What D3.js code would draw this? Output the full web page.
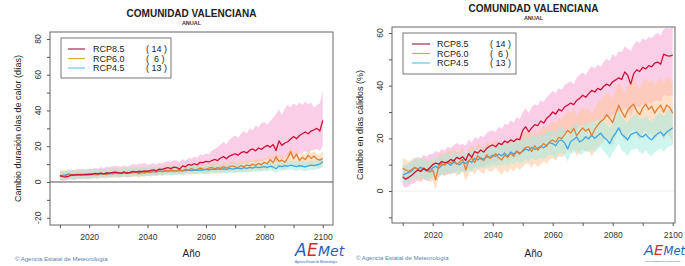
<!DOCTYPE html>
<html>
<head>
<meta charset="utf-8">
<script src="https://cdn.jsdelivr.net/npm/d3@7"></script>
<style>
  body { margin: 0; background: #fff; }
  svg { display: block; font-family: "Liberation Sans", Arial, sans-serif; }
</style>
</head>
<body>
<div id="chart"></div>
<script>
// years 2010..2100
const years = d3.range(2010, 2101);

const scenarios = ["RCP8.5", "RCP6.0", "RCP4.5"];
const models = [14, 6, 13];

// left panel: cambio duración olas de calor (días)
const L85 = [3.5,3.0,2.8,3.2,4.0,3.8,4.2,3.9,4.3,4.0, 4.4,4.2,4.8,4.5,5.0,4.6,5.1,4.9,5.3,5.5,
  5.2,5.0,5.6,4.8,5.4,5.9,5.5,6.0,5.8,6.2, 6.0,6.5,6.8,6.3,7.2,7.0,7.6,8.0,7.5,8.3,
  8.0,7.2,9.0,8.5,9.8,9.4,10.2,9.6,11.0,10.8, 11.5,11.2,12.0,12.6,12.0,13.4,14.2,13.0,14.5,15.2,
  15.8,15.0,16.4,17.0,16.2,17.8,18.5,17.4,19.0,18.2, 19.6,20.5,19.5,21.0,17.6,23.0,20.5,21.8,22.5,24.0,
  25.5,24.2,26.0,27.0,28.0,27.0,28.5,29.2,30.0,28.5, 34.5];
const L60 = [3.2,3.8,3.5,4.2,3.6,4.0,3.7,4.4,3.9,4.1, 3.8,4.6,4.2,4.0,4.8,4.4,4.1,5.0,4.6,4.9,
  4.5,5.2,4.8,5.5,4.9,5.3,5.7,4.6,5.4,5.0, 5.8,5.2,6.0,5.5,6.3,5.7,6.6,6.0,6.8,6.2,
  6.4,6.9,6.0,7.2,6.5,7.5,6.8,7.0,7.8,7.2, 7.0,7.8,8.2,7.4,8.0,7.6,8.6,7.8,8.4,9.0,
  8.5,8.0,9.2,8.6,9.5,9.0,10.0,9.2,10.4,9.6, 11.0,10.2,12.5,10.8,14.0,11.5,12.2,11.0,13.5,17.0,
  13.0,15.5,12.0,13.8,12.5,15.0,13.2,14.5,12.8,12.2, 13.2];
const L45 = [3.6,3.4,4.0,4.5,3.9,4.2,4.0,4.3,4.1,4.5, 4.2,4.6,4.3,4.8,4.4,4.7,4.9,4.5,5.0,4.8,
  5.1,4.7,5.3,5.0,5.4,5.2,5.6,5.3,5.7,5.5, 5.8,5.6,6.0,5.7,6.1,5.9,6.2,6.0,6.3,6.1,
  6.4,6.2,6.5,6.3,6.6,6.4,6.7,6.5,6.8,6.6, 7.0,6.7,7.2,6.9,7.3,7.0,7.4,7.1,7.6,7.2,
  7.5,7.8,7.3,8.0,7.6,8.2,7.8,8.4,8.0,8.3, 8.6,8.2,8.8,8.4,7.4,9.0,8.6,9.2,8.8,9.4,
  9.0,8.6,9.2,8.8,8.4,9.0,9.4,9.1,9.6,10.0, 11.5];
const L85hi = [6.5,5.8,6.0,6.4,7.0,6.6,7.2,6.8,7.4,7.0, 7.5,7.2,8.0,7.6,8.2,7.8,8.5,8.2,8.8,9.2,
  8.8,8.5,9.4,8.6,9.2,10.0,9.5,10.4,10.0,10.8, 9.5,10.0,10.5,9.8,10.8,10.4,11.2,11.8,11.0,12.2,
  12.0,11.0,12.8,11.8,13.5,13.0,14.2,13.5,15.5,15.0, 16.0,15.5,17.5,18.5,19.5,21.0,22.5,21.0,23.5,25.0,
  26.0,24.5,27.0,28.5,27.0,30.0,29.0,31.5,30.5,33.0, 33.5,32.0,34.0,36.0,38.0,40.5,37.5,41.0,43.0,42.0,
  44.0,42.5,44.5,43.0,45.0,43.5,44.5,41.5,43.0,44.0, 51.0];
const L85lo = [1.0,0.5,0.8,1.2,1.5,1.0,1.8,1.4,2.0,1.6, 2.0,1.8,2.4,2.0,2.5,2.2,2.8,2.5,3.0,3.2,
  2.8,2.6,3.2,2.5,3.0,3.5,3.2,3.6,3.4,3.8, 3.6,4.0,4.2,3.8,4.5,4.2,4.8,5.0,4.6,5.2,
  5.0,4.5,5.6,5.2,6.0,5.8,6.2,5.8,6.8,6.5, 7.0,6.8,7.4,7.8,7.2,8.2,8.8,8.0,9.0,9.5,
  9.8,9.2,10.2,10.6,10.0,11.0,11.5,10.8,11.8,11.2, 12.2,12.8,12.0,13.0,11.0,14.0,12.5,13.5,14.0,15.0,
  15.5,14.8,16.0,16.5,17.0,16.5,17.5,18.0,18.5,17.5, 20.0];
const L60hi = [6.0,6.6,6.1,7.1,6.3,6.9,6.4,7.3,6.6,7.0, 6.5,7.5,6.9,6.9,7.5,7.3,6.8,7.9,7.3,7.8,
  7.2,8.1,7.5,8.4,7.6,8.2,8.4,7.5,8.1,7.9, 8.5,8.1,8.7,8.4,9.0,8.6,9.3,8.9,9.5,9.1,
  9.1,9.8,8.7,10.1,9.2,10.4,9.5,9.9,10.5,10.1, 9.7,10.7,10.9,10.3,10.7,10.5,11.3,10.7,11.1,11.9,
  11.2,10.9,11.9,11.5,12.2,11.9,12.7,12.1,13.1,12.5, 13.7,13.1,15.2,13.7,16.7,14.4,14.9,13.9,16.2,19.9,
  15.7,18.4,14.7,16.7,15.2,17.9,15.9,17.4,15.5,15.1, 17.6];
const L60lo = [1.0,1.5,1.2,2.0,1.4,1.8,1.5,2.2,1.7,1.9, 1.6,2.4,2.0,1.8,2.6,2.2,1.9,2.8,2.4,2.7,
  2.3,3.0,2.6,3.2,2.7,3.0,3.4,2.4,3.1,2.8, 3.5,3.0,3.6,3.2,3.9,3.4,4.1,3.6,4.3,3.8,
  3.9,4.3,3.6,4.6,4.0,4.8,4.2,4.4,5.0,4.6, 4.3,5.0,5.3,4.7,5.2,4.9,5.6,5.0,5.4,5.9,
  5.5,5.1,6.0,5.6,6.2,5.8,6.5,6.0,6.8,6.2, 7.0,6.5,8.0,6.8,9.0,7.2,7.6,6.8,8.5,11.0,
  8.0,9.5,7.4,8.6,7.8,9.2,8.2,9.0,8.0,7.6, 8.5];
const L45hi = [6.2,5.8,6.6,7.0,6.3,6.7,6.4,6.9,6.5,7.0, 6.6,7.1,6.8,7.3,6.9,7.2,7.4,7.0,7.5,7.3,
  7.6,7.2,7.8,7.5,7.9,7.7,8.1,7.8,8.2,8.0, 8.3,8.1,8.5,8.2,8.6,8.4,8.7,8.5,8.8,8.6,
  8.9,8.7,9.0,8.8,9.1,8.9,9.2,9.0,9.3,9.1, 9.6,9.3,9.8,9.5,9.9,9.6,10.0,9.7,10.2,9.8,
  10.1,10.4,9.9,10.6,10.2,10.8,10.4,11.0,10.6,10.9, 11.2,10.8,11.4,11.0,10.2,11.6,11.2,11.8,11.4,12.0,
  11.6,11.2,11.8,11.4,11.0,11.6,12.0,11.7,12.2,12.6, 13.8];
const L45lo = [1.4,1.2,1.8,2.2,1.6,2.0,1.8,2.1,1.9,2.3, 2.0,2.4,2.1,2.6,2.2,2.5,2.7,2.3,2.8,2.6,
  2.9,2.5,3.1,2.8,3.2,3.0,3.4,3.1,3.5,3.3, 3.6,3.4,3.8,3.5,3.9,3.7,4.0,3.8,4.1,3.9,
  4.2,4.0,4.3,4.1,4.4,4.2,4.5,4.3,4.6,4.4, 4.7,4.4,4.9,4.6,5.0,4.7,5.1,4.8,5.3,4.9,
  5.1,5.4,4.9,5.6,5.2,5.8,5.4,6.0,5.6,5.9, 6.2,5.8,6.4,6.0,4.8,6.6,6.2,6.8,6.4,7.0,
  6.6,6.2,6.8,6.4,6.0,6.6,7.0,6.7,7.2,7.6, 9.2];

// right panel: cambio en días cálidos (%)
const R85 = [5.4,4.5,5.2,6.0,7.0,8.0,7.4,8.6,7.8,8.8, 10.0,10.6,10.2,11.2,10.8,11.0,12.0,11.4,12.8,12.2,
  13.0,11.6,14.2,12.8,15.0,14.4,15.6,14.8,16.2,17.0, 17.5,16.8,18.2,17.6,19.0,18.4,19.4,18.8,19.8,19.5,
  23.0,24.4,22.5,24.0,25.2,24.8,26.6,25.8,27.6,28.6, 30.0,29.2,31.0,30.4,32.0,32.6,33.4,32.8,34.4,35.2,
  36.4,35.6,37.0,38.2,37.6,39.0,38.4,39.8,40.6,40.0, 41.5,42.2,43.0,42.4,45.2,44.0,40.6,44.6,46.0,45.4,
  47.0,46.4,47.6,47.2,48.6,49.0,48.2,52.0,51.4,51.2, 51.6];
const R60 = [8.6,8.0,7.4,8.2,9.0,8.4,7.6,8.8,7.8,7.2, 8.0,4.2,9.6,10.4,9.8,11.2,10.6,11.8,10.2,11.0,
  12.0,8.0,11.4,12.6,10.8,13.4,12.2,11.6,13.8,12.4, 13.0,14.2,12.6,11.8,13.6,12.8,14.4,13.2,15.0,14.0,
  15.4,16.6,16.8,15.0,17.2,15.5,16.8,18.0,17.0,18.8, 19.4,18.6,20.4,20.0,21.4,23.0,22.0,23.8,21.0,22.6,
  24.0,22.8,23.6,21.0,23.4,25.0,26.4,27.2,29.0,27.6, 26.0,29.4,32.6,30.2,28.0,30.6,32.0,33.0,30.4,29.0,
  31.6,33.0,31.0,32.2,29.6,31.4,32.6,30.0,32.6,31.8, 29.6];
const R45 = [6.0,6.6,7.0,7.6,8.8,8.4,9.0,8.2,7.6,8.0, 8.8,9.4,8.6,9.8,10.2,10.6,9.8,11.0,10.4,10.0,
  11.0,10.4,11.6,10.8,12.4,11.8,12.6,12.0,13.0,12.8, 13.6,13.2,14.0,13.4,14.4,13.2,14.8,14.0,15.2,14.4,
  15.0,16.0,15.4,16.6,15.8,16.3,17.0,16.4,17.6,18.4, 18.0,17.2,19.0,19.4,18.2,16.0,18.8,19.6,20.5,18.6,
  19.4,20.6,19.8,21.2,20.0,21.0,22.0,20.4,19.6,18.0, 20.4,22.0,24.0,21.6,20.6,19.4,21.4,22.0,22.4,21.0,
  20.5,21.6,20.2,19.4,20.8,21.8,22.4,21.0,22.4,23.2, 24.0];
const R85hi = [10.0,9.2,10.4,11.2,12.0,13.0,12.4,13.8,13.0,14.2, 14.0,15.2,14.6,16.0,15.4,16.8,16.2,17.4,18.2,17.6,
  18.0,17.2,19.6,18.4,20.4,19.8,21.0,20.4,22.0,22.8, 23.0,22.4,24.4,23.6,25.6,25.0,26.8,26.0,28.0,27.4,
  30.0,31.4,29.6,31.8,33.0,32.4,34.6,33.8,35.6,36.8, 38.0,37.2,39.0,38.4,40.4,41.0,41.8,40.6,43.0,44.2,
  45.0,44.0,46.2,47.4,46.6,48.0,47.2,49.0,50.2,49.4, 52.0,51.0,53.2,52.6,55.0,54.0,53.2,55.6,57.0,56.2,
  58.0,57.2,58.6,58.0,59.4,60.0,59.2,61.4,62.0,61.6, 62.5];
const R85lo = [2.0,1.2,1.8,2.6,3.2,4.0,3.4,4.6,3.8,4.4, 5.2,5.8,5.4,6.4,6.0,6.2,7.0,6.6,7.6,7.2,
  7.8,6.8,8.6,7.8,9.2,8.8,9.6,9.0,10.2,10.8, 11.2,10.6,11.8,11.2,12.4,11.8,12.8,12.2,13.2,13.0,
  15.0,16.2,14.6,16.0,17.0,16.6,18.0,17.4,18.8,19.6, 20.4,19.8,21.0,20.6,21.8,22.4,23.0,22.4,23.6,24.2,
  25.0,24.4,25.6,26.4,26.0,27.0,26.6,27.6,28.2,27.8, 29.0,29.6,30.2,29.8,31.6,30.8,28.4,31.2,32.2,31.8,
  33.0,32.6,33.4,33.2,34.2,34.6,34.0,36.6,36.2,36.0, 36.4];
const R60hi = [12.4,12.0,11.2,12.0,12.8,12.2,11.4,12.8,11.8,11.2, 12.2,9.0,13.8,14.6,14.0,15.6,15.0,16.2,14.6,15.6,
  16.6,13.0,16.2,17.4,15.6,18.4,17.2,16.6,19.0,17.6, 18.4,19.6,18.0,17.4,19.2,18.6,20.2,19.0,21.0,20.0,
  21.6,22.8,23.2,21.4,23.8,22.0,23.4,24.8,23.8,25.6, 26.4,25.6,27.6,27.2,28.8,30.6,29.6,31.6,28.8,30.4,
  32.0,30.8,31.6,29.2,31.6,33.4,34.8,35.8,37.6,36.4, 35.0,38.4,41.6,39.4,37.2,40.0,41.4,42.6,40.0,38.8,
  41.4,43.0,41.0,42.4,40.0,41.8,43.2,40.6,43.4,42.8, 41.0];
const R60lo = [4.8,4.2,3.6,4.4,5.0,4.6,3.8,5.0,4.0,3.4, 3.8,0.6,5.4,6.2,5.6,6.8,6.2,7.4,5.8,6.4,
  7.4,3.6,6.6,7.8,6.0,8.4,7.2,6.6,8.6,7.2, 7.6,8.8,7.2,6.2,8.0,7.0,8.6,7.4,9.0,8.0,
  9.2,10.4,10.4,8.8,10.6,9.0,10.2,11.2,10.2,12.0, 12.4,11.6,13.2,12.8,14.0,15.4,14.4,16.0,13.2,14.8,
  16.0,14.8,15.6,13.0,15.2,16.6,17.8,18.6,20.4,19.0, 17.0,20.4,23.6,21.0,18.8,21.2,22.6,23.4,20.8,19.2,
  21.8,23.0,21.0,22.0,19.2,21.0,22.0,19.4,21.8,20.8, 18.2];
const R45hi = [9.6,10.2,10.6,11.2,12.4,12.0,12.6,11.8,11.2,11.6, 12.4,13.0,12.2,13.6,14.0,14.4,13.6,14.8,14.2,13.8,
  14.8,14.2,15.4,14.6,16.4,15.8,16.6,16.0,17.0,16.8, 17.6,17.2,18.0,17.4,18.6,17.4,19.0,18.2,19.6,18.8,
  19.4,20.4,19.8,21.2,20.4,20.9,21.6,21.0,22.4,23.2, 22.8,22.0,24.0,24.4,23.2,21.0,24.0,24.8,25.8,23.8,
  24.8,26.0,25.2,26.8,25.6,26.6,27.8,26.2,25.4,24.0, 26.6,28.2,30.4,28.0,27.0,25.8,28.0,28.6,29.2,27.8,
  27.4,28.6,27.2,26.4,28.0,29.2,29.8,28.4,30.0,31.0, 32.0];
const R45lo = [2.4,3.0,3.4,4.0,5.2,4.8,5.4,4.6,4.0,4.4, 5.2,5.8,5.0,6.2,6.6,7.0,6.2,7.4,6.8,6.4,
  7.4,6.8,8.0,7.2,8.8,8.2,9.0,8.4,9.4,9.2, 9.8,9.4,10.2,9.6,10.6,9.4,11.0,10.2,11.4,10.6,
  11.0,11.8,11.2,12.4,11.6,12.0,12.6,12.0,13.0,13.8, 13.4,12.6,14.2,14.6,13.4,11.2,14.0,14.6,15.4,13.6,
  14.2,15.4,14.6,16.0,14.8,15.8,16.8,15.0,14.0,12.2, 14.6,16.2,18.0,15.6,14.6,13.2,15.4,15.8,16.2,14.8,
  14.2,15.4,14.0,13.2,14.6,15.6,16.2,14.8,16.2,17.0, 17.4];

const lineColors = ["#cf1037", "#e67e32", "#3ea6e6"];
const bandColors = ["#f7a6d6", "#fdc99a", "#a6ece0"];
const legendColors = ["#a12a4b", "#d9aa3a", "#5cc6f0"];

const svg = d3.select("#chart").append("svg")
    .attr("width", 685)
    .attr("height", 266);

const panels = [
  {
    box: { left: 50, right: 333, top: 32, bottom: 225 },
    xDomain: [2006.6, 2103.5], yDomain: [-24.06, 83.9],
    yTicks: [-20, 0, 20, 40, 60, 80], yMinor: d3.range(-20, 81, 10),
    zeroColor: "#555",
    means: [L85, L60, L45], his: [L85hi, L60hi, L45hi], los: [L85lo, L60lo, L45lo],
    ylabel: "Cambio duración olas de calor (días)", ylabelX: 18,
    titleY: 17, subY: 25,
    legend: { x: 61, y: 38, w: 110, h: 40, rows: [49, 58.5, 68], lineX: [68, 85], textX: 93, numX: 146 },
    footX: 15, footY: 261,
    logo: { x: 295, y: 256, size: 17, step: [12, 11], small: 2.9 }
  },
  {
    box: { left: 392, right: 675, top: 27, bottom: 223 },
    xDomain: [2006.43, 2100.77], yDomain: [-12.15, 62.3],
    yTicks: [0, 20, 40, 60], yMinor: d3.range(-10, 61, 10),
    zeroColor: "#eeeeee",
    means: [R85, R60, R45], his: [R85hi, R60hi, R45hi], los: [R85lo, R60lo, R45lo],
    ylabel: "Cambio en días cálidos (%)", ylabelX: 360,
    titleY: 12, subY: 20,
    legend: { x: 403, y: 33, w: 113, h: 41, rows: [44, 53.5, 63], lineX: [412, 430], textX: 437, numX: 490 },
    footX: 356, footY: 260,
    logo: { x: 644, y: 255, size: 14.5, step: [10, 9.5], small: 2.5 }
  }
];

panels.forEach(p => {
  const b = p.box;
  const x = d3.scaleLinear().domain(p.xDomain).range([b.left, b.right]);
  const y = d3.scaleLinear().domain(p.yDomain).range([b.bottom, b.top]);
  const g = svg.append("g");
  const cx = (b.left + b.right) / 2;

  const clipId = "clip" + b.left;
  g.append("clipPath").attr("id", clipId)
    .append("rect")
    .attr("x", b.left).attr("y", b.top)
    .attr("width", b.right - b.left).attr("height", b.bottom - b.top);

  const plot = g.append("g").attr("clip-path", `url(#${clipId})`);

  // zero reference line
  plot.append("line")
    .attr("x1", b.left).attr("x2", b.right)
    .attr("y1", y(0)).attr("y2", y(0))
    .attr("stroke", p.zeroColor).attr("stroke-width", 1);

  // uncertainty bands
  const area = (lo, hi) => d3.area()
    .x((d, i) => x(years[i]))
    .y0((d, i) => y(lo[i]))
    .y1((d, i) => y(hi[i]))(years);

  [0, 1, 2].forEach(k => {
    plot.append("path")
      .attr("d", area(p.los[k], p.his[k]))
      .attr("fill", bandColors[k])
      .attr("fill-opacity", 0.55);
  });

  // ensemble means
  const line = d3.line()
    .x((d, i) => x(years[i]))
    .y(d => y(d));

  [2, 1, 0].forEach(k => {
    plot.append("path")
      .datum(p.means[k])
      .attr("fill", "none")
      .attr("stroke", lineColors[k])
      .attr("stroke-width", 1.3)
      .attr("stroke-linejoin", "round")
      .attr("d", line);
  });

  // box
  g.append("rect")
    .attr("x", b.left).attr("y", b.top)
    .attr("width", b.right - b.left).attr("height", b.bottom - b.top)
    .attr("fill", "none").attr("stroke", "#666").attr("stroke-width", 1);

  // x axis
  const xAxis = g.append("g")
    .attr("transform", `translate(0,${b.bottom})`)
    .call(d3.axisBottom(x)
      .tickValues(d3.range(2010, 2101, 10))
      .tickSize(3)
      .tickFormat(d => d % 20 === 0 ? d : ""));
  xAxis.select(".domain").remove();
  xAxis.selectAll(".tick line").attr("stroke", "#555");
  xAxis.selectAll(".tick text")
    .attr("y", 9)
    .attr("fill", "#333")
    .style("font-size", "8.5px")
    .style("font-family", "Liberation Sans, Arial, sans-serif");

  // y axis: minor + major ticks, rotated labels
  const yAxis = g.append("g")
    .attr("transform", `translate(${b.left},0)`)
    .call(d3.axisLeft(y).tickValues(p.yMinor).tickSize(3).tickFormat(""));
  yAxis.select(".domain").remove();
  yAxis.selectAll(".tick line").attr("stroke", "#555");

  g.selectAll(".ylab")
    .data(p.yTicks)
    .join("text")
    .attr("transform", d => `translate(${b.left - 9},${y(d)}) rotate(-90)`)
    .attr("text-anchor", "middle")
    .attr("fill", "#333")
    .style("font-size", "8.5px")
    .text(d => d);

  // titles
  g.append("text")
    .attr("x", cx).attr("y", p.titleY)
    .attr("text-anchor", "middle")
    .style("font-size", "10px").style("font-weight", "bold")
    .attr("fill", "#222")
    .text("COMUNIDAD VALENCIANA");
  g.append("text")
    .attr("x", cx).attr("y", p.subY)
    .attr("text-anchor", "middle")
    .style("font-size", "5.5px").style("font-weight", "bold")
    .attr("fill", "#333")
    .text("ANUAL");

  // axis labels
  g.append("text")
    .attr("transform", `translate(${p.ylabelX},${(b.top + b.bottom) / 2}) rotate(-90)`)
    .attr("text-anchor", "middle")
    .attr("dy", "0.35em")
    .attr("fill", "#222")
    .style("font-size", "9px")
    .text(p.ylabel);
  g.append("text")
    .attr("x", cx).attr("y", 257)
    .attr("text-anchor", "middle")
    .attr("fill", "#222")
    .style("font-size", "10px")
    .text("Año");

  // legend
  const L = p.legend;
  g.append("rect")
    .attr("x", L.x).attr("y", L.y).attr("width", L.w).attr("height", L.h)
    .attr("fill", "#fff").attr("stroke", "#555").attr("stroke-width", 0.8);
  scenarios.forEach((s, k) => {
    g.append("line")
      .attr("x1", L.lineX[0]).attr("x2", L.lineX[1])
      .attr("y1", L.rows[k]).attr("y2", L.rows[k])
      .attr("stroke", legendColors[k]).attr("stroke-width", 1.2);
    g.append("text")
      .attr("x", L.textX).attr("y", L.rows[k]).attr("dy", "0.35em")
      .attr("fill", "#222").style("font-size", "9px")
      .text(s);
    g.append("text")
      .attr("x", L.numX).attr("y", L.rows[k]).attr("dy", "0.35em")
      .attr("fill", "#222").style("font-size", "9px")
      .attr("xml:space", "preserve").style("white-space", "pre")
      .text("(" + String(models[k]).padStart(3, " ") + " )");
  });

  // footer
  g.append("text")
    .attr("x", p.footX).attr("y", p.footY)
    .attr("fill", "#5a7fb0")
    .style("font-size", "6px")
    .text("© Agencia Estatal de Meteorología");

  // AEMet logo, drawn as three separate text pieces
  const lg = p.logo;
  const pieces = [
    { t: "A", c: "#1f5fb5", dx: 0, s: lg.size },
    { t: "E", c: "#d8282e", dx: lg.step[0], s: lg.size },
    { t: "Met", c: "#1f5fb5", dx: lg.step[0] + lg.step[1], s: lg.size - 3 }
  ];
  pieces.forEach(pc => {
    g.append("text")
      .attr("x", lg.x + pc.dx).attr("y", lg.y)
      .attr("fill", pc.c)
      .style("font-size", pc.s + "px").style("font-style", "italic")
      .style("font-family", "DejaVu Sans, sans-serif")
      .text(pc.t);
  });
  g.append("text")
    .attr("x", lg.x).attr("y", lg.y + 6.5)
    .attr("fill", "#1f5fb5")
    .style("font-size", lg.small + "px")
    .text("Agencia Estatal de Meteorología");
});
</script>
</body>
</html>
